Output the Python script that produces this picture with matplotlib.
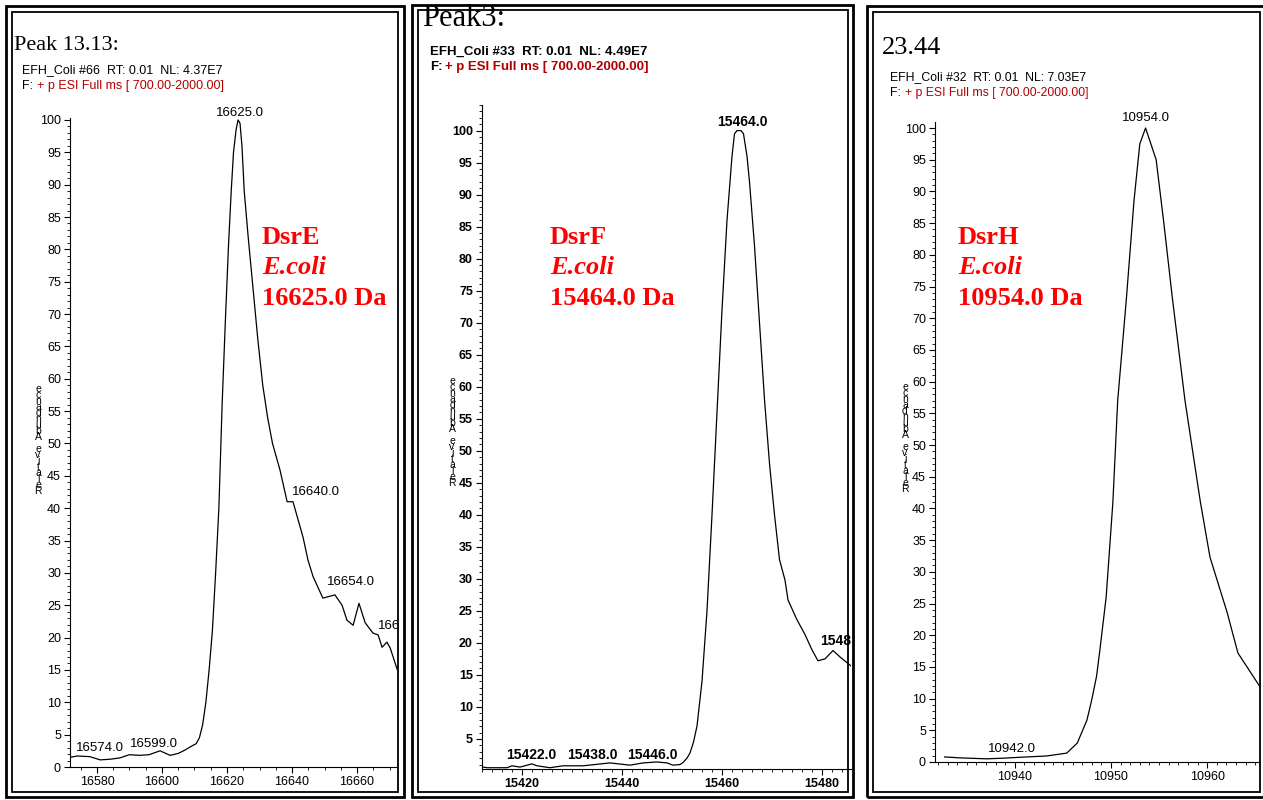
import matplotlib
matplotlib.use("Agg")
import matplotlib.pyplot as plt
from matplotlib.patches import Rectangle
from matplotlib.ticker import MultipleLocator

# DsrE  (Peak 13.13)
mass_e = [16571.7, 16574, 16577.8, 16581, 16584, 16587, 16590, 16593, 16596, 16599.4,
          16602.5, 16605, 16607, 16609, 16610.5, 16611.5, 16612.5, 16613.5, 16614.5, 16615.5,
          16616.5, 16617.5, 16618.5, 16619.5, 16620.5, 16621.3, 16622, 16622.8, 16623.4, 16624,
          16624.6, 16625.3, 16626.5, 16628, 16629.5, 16631, 16632.5, 16634, 16636.3, 16638.5,
          16640.3, 16643.4, 16644.9, 16646.5, 16649.5, 16653.2, 16655.4, 16656.9, 16658.8, 16660.6,
          16662.5, 16664.9, 16666.5, 16667.7, 16669.2, 16670.2, 16672.6]
abund_e = [1.5, 1.7, 1.6, 1.1, 1.2, 1.4, 1.9, 1.8, 1.9, 2.5,
           1.8, 2.1, 2.6, 3.2, 3.6, 4.5, 6.5, 10, 15, 21,
           30, 40, 56, 69, 81, 89, 95, 98.5, 100, 99.5,
           96, 89, 82, 74, 66, 59, 54, 50, 45.9, 41.0,
           41.0, 35.5, 32, 29.4, 26.1, 26.6, 25, 22.7, 21.9, 25.3,
           22.3, 20.7, 20.4, 18.5, 19.3, 18.4, 14.7]

# DsrF  (Peak3)
mass_f = [15412.2, 15413, 15415, 15417, 15418, 15419.6, 15422, 15423, 15425.6, 15428.2,
          15432.2, 15437.6, 15441.6, 15444.2, 15447, 15449, 15450.2, 15451.6, 15452.2, 15453,
          15453.6, 15454.3, 15455, 15456, 15457, 15458, 15459, 15460, 15461, 15462,
          15462.5, 15463, 15463.8, 15464.3, 15465, 15465.5, 15466.5, 15467.5, 15468.5, 15469.5,
          15470.5, 15471.5, 15472.6, 15473.2, 15475, 15476.6, 15478, 15479.2, 15480.6, 15482.2,
          15483.6, 15485.8]
abund_f = [0.6, 0.5, 0.5, 0.5, 0.8, 0.6, 1.1, 0.8, 0.5, 0.8,
           0.8, 1.25, 0.9, 1.25, 1.4, 1.25, 0.9, 1.0, 1.3, 2.0,
           2.8, 4.5, 7, 14, 25, 40, 56, 72, 86, 96,
           99.5, 100, 100, 99.5, 96, 92, 82, 70, 58, 48,
           40, 33, 29.8, 26.7, 23.6, 21.3, 18.9, 17.2, 17.5, 18.8,
           17.8, 16.4]

# DsrH  (23.44)
mass_h = [10932.7, 10934.3, 10937.1, 10938.75, 10941.25, 10943.3, 10945.4, 10946.5, 10947.5, 10948,
          10948.5, 10948.85, 10949.5, 10950.2, 10950.7, 10951.6, 10952.4, 10953, 10953.6, 10954.7,
          10955.5, 10956.4, 10957.7, 10959.3, 10960.3, 10962.1, 10963.2, 10965.7]
abund_h = [0.8, 0.65, 0.5, 0.6, 0.8, 0.95, 1.4, 3, 6.6, 9.8,
           13.5, 17.7, 26, 41, 57, 73, 88.6, 97.5, 100, 95,
           85, 73, 57, 41, 32.3, 23.5, 17.2, 11.4]

# peak labels: (text, x, y, alignment)
labels_e = [("16625.0", 16624, 101.1, "center"), ("16640.0", 16640, 42.5, "left"),
            ("16654.0", 16650.8, 28.6, "left"), ("16662.0", 16666.5, 21.8, "left"),
            ("16574.0", 16573.5, 2.9, "left"), ("16599.0", 16590.2, 3.6, "left")]
labels_f = [("15464.0", 15464, 101.3, "center"), ("15422.0", 15416.8, 2.5, "left"),
            ("15438.0", 15429, 2.5, "left"), ("15446.0", 15441, 2.5, "left"),
            ("15482.0", 15479.6, 20.3, "left")]
labels_h = [("10954.0", 10953.6, 101.6, "center"), ("10942.0", 10937.2, 2.05, "left")]

titles = ["Peak 13.13:", "Peak3:", "23.44"]
scan_info = ["EFH_Coli #66  RT: 0.01  NL: 4.37E7",
             "EFH_Coli #33  RT: 0.01  NL: 4.49E7",
             "EFH_Coli #32  RT: 0.01  NL: 7.03E7"]
proteins = ["DsrE", "DsrF", "DsrH"]
masses = ["16625.0 Da", "15464.0 Da", "10954.0 Da"]

W, H = 1263, 800
SANS = "Liberation Sans"
SERIF = "Liberation Serif"

fig = plt.figure(figsize=(W / 100, H / 100), dpi=100)


def add_ax(l, r, t, b):
    return fig.add_axes([l / W, 1 - b / H, (r - l) / W, (b - t) / H])


def ftext(px, py, s, **kw):
    fig.text(px / W, 1 - py / H, s, **kw)


def frame(x0, y0, x1, y1, lw):
    fig.add_artist(Rectangle((x0 / W, 1 - y1 / H), (x1 - x0) / W, (y1 - y0) / H,
                             transform=fig.transFigure, fill=False, ec="black", lw=lw))


# double frames round each panel
frame(6, 6, 404, 797, 2.0)
frame(12, 12, 398, 792, 1.3)
frame(412, 5, 853, 797, 2.0)
frame(418, 10, 848, 792, 1.3)
frame(867, 6, 1275, 797, 2.0)
frame(873, 12, 1260, 792, 1.3)

panels = [
    dict(box=(70, 397, 118, 767), xlim=(16571.7, 16672.3), ylim=(0, 100.3),
         xmaj=20, xmin=5, x=mass_e, y=abund_e, labels=labels_e, bold=False, lsize=9.5),
    dict(box=(482, 851, 105, 769), xlim=(15412, 15485.8), ylim=(0.3, 104),
         xmaj=20, xmin=2, x=mass_f, y=abund_f, labels=labels_f, bold=True, lsize=10),
    dict(box=(935, 1260, 122, 762), xlim=(10931.7, 10965.5), ylim=(0, 100.95),
         xmaj=10, xmin=1, x=mass_h, y=abund_h, labels=labels_h, bold=False, lsize=9.5),
]

for p in panels:
    ax = add_ax(*p["box"])
    ax.plot(p["x"], p["y"], color="black", lw=0.9)
    ax.set_xlim(*p["xlim"])
    ax.set_ylim(*p["ylim"])
    ax.spines["top"].set_visible(False)
    ax.spines["right"].set_visible(False)
    ax.spines["left"].set_linewidth(0.8)
    ax.spines["bottom"].set_linewidth(0.8)
    ax.xaxis.set_major_locator(MultipleLocator(p["xmaj"]))
    ax.xaxis.set_minor_locator(MultipleLocator(p["xmin"]))
    ax.yaxis.set_major_locator(MultipleLocator(5))
    ax.yaxis.set_minor_locator(MultipleLocator(1))
    ax.tick_params(which="major", length=4.5, width=0.8, labelsize=9, pad=2)
    ax.tick_params(which="minor", length=2.5, width=0.6)
    for lab in ax.get_xticklabels() + ax.get_yticklabels():
        lab.set_fontfamily(SANS)
        if p["bold"]:
            lab.set_fontweight("bold")
    ax.patch.set_alpha(0)
    for s, x, y, ha in p["labels"]:
        ax.text(x, y, s, fontsize=p["lsize"], family=SANS, ha=ha, va="center",
                fontweight="bold" if p["bold"] else "normal",
                clip_on=(ha == "left" and x > p["xlim"][1] - 8))

# header texts
head_pos = [((14, 46), (22, 70), (22, 86), 16, 9),
            ((422, 18), (430, 52), (430, 67), 22, 9.5),
            ((882, 48), (890, 77), (890, 93), 19, 8.8)]
for i, (tpos, ipos, fpos, tsize, isize) in enumerate(head_pos):
    ftext(*tpos, titles[i], fontsize=tsize, family=SERIF, va="center")
    w = "bold" if i == 1 else "normal"
    ftext(*ipos, scan_info[i], fontsize=isize, family=SANS, va="center", fontweight=w)
    ftext(*fpos, "F:", fontsize=isize, family=SANS, va="center", fontweight=w)
    ftext(fpos[0] + 15, fpos[1], "+ p ESI Full ms [ 700.00-2000.00]", fontsize=isize,
          family=SANS, va="center", color="#b00000", fontweight=w)

# red identification labels
red_x = [262, 550, 958]
for i, x in enumerate(red_x):
    ftext(x, 238, proteins[i], fontsize=19, family=SERIF, color="red",
          fontweight="bold", va="center")
    ftext(x, 268, "E.coli", fontsize=19, family=SERIF, color="red",
          fontweight="bold", style="italic", va="center")
    ftext(x, 298, masses[i], fontsize=19, family=SERIF, color="red",
          fontweight="bold", va="center")

# stacked y-axis label
stack = "\n".join(reversed("Relative Abundance"))
for x, y in [(38, 440), (452, 432), (905, 438)]:
    ftext(x, y, stack, fontsize=7.5, family=SANS, ha="center", va="center",
          linespacing=0.5)

fig.savefig("out.png", dpi=100)
